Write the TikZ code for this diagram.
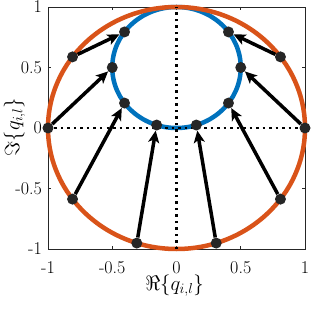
\documentclass[tikz,border=0pt]{standalone}
\usepackage{fontspec}
\usetikzlibrary{arrows.meta}
\definecolor{mlorange}{HTML}{D95319}
\definecolor{mlblue}{HTML}{0072BD}
\definecolor{mkgray}{HTML}{262626}
\begin{document}
\begin{tikzpicture}[x=128.5pt, y=121pt, font=\fontsize{18}{20}\selectfont,
  frame/.style={line width=0.6pt, mkgray},
  ring/.style={line width=4.5pt},
  guide/.style={line width=2.5pt, dash pattern=on 2.5pt off 4pt},
  mk/.style={circle, fill=mkgray, inner sep=0pt, minimum size=11pt},
  vec/.style={line width=3.5pt, -{Stealth[length=12pt,width=11pt,inset=3pt]}},
  lab/.style={inner sep=1pt},
  axlab/.style={inner sep=0pt, font=\fontsize{20}{22}\selectfont}]
  \useasboundingbox (-176.5pt,-190pt) rectangle (135.5pt,128pt);
  % 축 상자와 안쪽 눈금
  \draw[frame] (-1,-1) rectangle (1,1);
  \draw[frame] (-0.5,-1) -- ++(0,2.6pt); \draw[frame] (0,-1) -- ++(0,2.6pt); \draw[frame] (0.5,-1) -- ++(0,2.6pt);
  \draw[frame] (-0.5,1) -- ++(0,-2.6pt); \draw[frame] (0,1) -- ++(0,-2.6pt); \draw[frame] (0.5,1) -- ++(0,-2.6pt);
  \draw[frame] (-1,-0.5) -- ++(2.6pt,0); \draw[frame] (-1,0) -- ++(2.6pt,0); \draw[frame] (-1,0.5) -- ++(2.6pt,0);
  \draw[frame] (1,-0.5) -- ++(-2.6pt,0); \draw[frame] (1,0) -- ++(-2.6pt,0); \draw[frame] (1,0.5) -- ++(-2.6pt,0);
  % 눈금 숫자
  \node[lab, anchor=north, yshift=-11pt] (tx1) at (-1,-1) {-1};
  \node[lab, anchor=north, yshift=-11pt] (tx2) at (-0.5,-1) {-0.5};
  \node[lab, anchor=north, yshift=-11pt] (tx3) at (0,-1) {0};
  \node[lab, anchor=north, yshift=-11pt] (tx4) at (0.5,-1) {0.5};
  \node[lab, anchor=north, yshift=-11pt] (tx5) at (1,-1) {1};
  \node[lab, anchor=east, xshift=-5pt] (ty1) at (-1,-1) {-1};
  \node[lab, anchor=east, xshift=-5pt] (ty2) at (-1,-0.5) {-0.5};
  \node[lab, anchor=east, xshift=-5pt] (ty3) at (-1,0) {0};
  \node[lab, anchor=east, xshift=-5pt] (ty4) at (-1,0.5) {0.5};
  \node[lab, anchor=east, xshift=-5pt] (ty5) at (-1,1) {1};
  \node[axlab] (xlab) at (-2pt,-158pt) {$\Re\Bigl\{q_{i,l}\Bigr\}$};
  \node[axlab, rotate=90] (ylab) at (-162pt,1pt) {$\Im\Bigl\{q_{i,l}\Bigr\}$};
  % 두 원: 안쪽(파랑) 먼저, 바깥(주황) 위에
  \draw[ring, mlblue] (0,0.5) circle (0.5);
  \draw[ring, mlorange] (0,0) circle (1);
  % 점선 축
  \coordinate (hl) at (-1,0); \coordinate (hr) at (1,0);
  \coordinate (vb) at (0,-1); \coordinate (vt) at (0,1);
  \draw[guide] (hl) -- (hr);
  \draw[guide] (vb) -- (vt);
  % 바깥 원 위의 점 a, 안쪽 원 위의 점 b (각 0, 36, 144, 180, 216, 252, 288, 324도)
  \node[mk] (a1) at (1,0) {};         \node[mk] (b1) at (0.5,0.5) {};
  \node[mk] (a2) at (0.809,0.5878) {};  \node[mk] (b2) at (0.4045,0.7939) {};
  \node[mk] (a3) at (-0.809,0.5878) {}; \node[mk] (b3) at (-0.4045,0.7939) {};
  \node[mk] (a4) at (-1,0) {};        \node[mk] (b4) at (-0.5,0.5) {};
  \node[mk] (a5) at (-0.809,-0.5878) {}; \node[mk] (b5) at (-0.4045,0.2061) {};
  \node[mk] (a6) at (-0.309,-0.9511) {}; \node[mk] (b6) at (-0.1545,0.0245) {};
  \node[mk] (a7) at (0.309,-0.9511) {};  \node[mk] (b7) at (0.1545,0.0245) {};
  \node[mk] (a8) at (0.809,-0.5878) {};  \node[mk] (b8) at (0.4045,0.2061) {};
  % 화살표
  \draw[vec] (a1) -- (b1); \draw[vec] (a2) -- (b2);
  \draw[vec] (a3) -- (b3); \draw[vec] (a4) -- (b4);
  \draw[vec] (a5) -- (b5); \draw[vec] (a6) -- (b6);
  \draw[vec] (a7) -- (b7); \draw[vec] (a8) -- (b8);
\end{tikzpicture}
\end{document}
